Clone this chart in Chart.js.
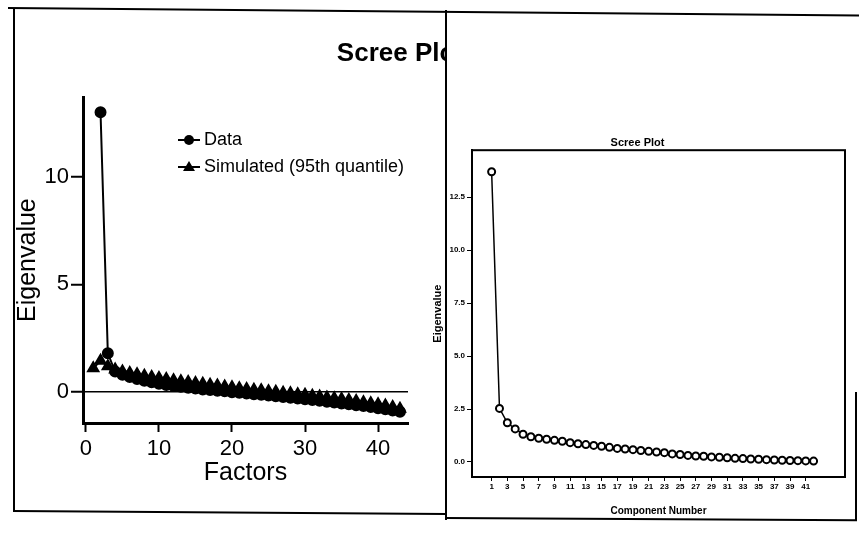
<!DOCTYPE html>
<html>
<head>
<meta charset="utf-8">
<script src="https://cdn.jsdelivr.net/npm/chart.js@4.4.1/dist/chart.umd.min.js"></script>
<style>
  body { margin: 0; background: #fff; width: 859px; height: 533px; overflow: hidden; position: relative; }
  .abs { position: absolute; }
  #leftWrap { left: 0; top: 9px; z-index: 1; }
  #rightPanel { left: 446px; top: 10px; width: 413px; height: 510px; background: #fff; z-index: 2; }
  #rightWrap { left: 430px; top: 100px; z-index: 3; }
  .ln { position: absolute; background: #000; z-index: 4; transform-origin: 0 0; }
</style>
</head>
<body>
<div class="abs" id="leftWrap"><canvas id="leftChart" width="464" height="499"></canvas></div>
<div class="abs" id="rightPanel"></div>
<div class="abs" id="rightWrap"><canvas id="rightChart" width="429" height="425"></canvas></div>

<!-- marcos del recorte escaneado -->
<div class="ln" style="left:8px;top:7px;width:852px;height:2px;transform:rotate(0.5deg)"></div>
<div class="ln" style="left:13px;top:9px;width:2px;height:503px"></div>
<div class="ln" style="left:13px;top:510px;width:434px;height:2px;transform:rotate(0.4deg)"></div>
<div class="ln" style="left:445px;top:10px;width:2px;height:510px"></div>
<div class="ln" style="left:445px;top:517px;width:412px;height:2px;transform:rotate(0.3deg)"></div>
<div class="ln" style="left:855px;top:392px;width:2px;height:128px"></div>

<script>
// === Panel izquierdo: análisis paralelo ===
const factors = [1, 2, 3, 4, 5, 6, 7, 8, 9, 10, 11, 12, 13, 14, 15, 16, 17, 18, 19, 20, 21, 22,
                 23, 24, 25, 26, 27, 28, 29, 30, 31, 32, 33, 34, 35, 36, 37, 38, 39, 40, 41, 42, 43];
const dataEigen = [null, 13.0, 1.8, 0.95, 0.8, 0.7, 0.6, 0.52, 0.45, 0.38, 0.33,
                   0.28, 0.24, 0.2, 0.16, 0.12, 0.09, 0.06, 0.03, -0.01, -0.04,
                   -0.07, -0.1, -0.13, -0.16, -0.2, -0.23, -0.27, -0.3, -0.34, -0.37,
                   -0.41, -0.45, -0.49, -0.53, -0.57, -0.61, -0.65, -0.7, -0.75, -0.8,
                   -0.86, -0.92];
const simulatedEigen = [1.1, 1.45, 1.2, 1.05, 0.95, 0.88, 0.82, 0.76, 0.7, 0.65,
                        0.6, 0.55, 0.5, 0.46, 0.42, 0.38, 0.34, 0.3, 0.26, 0.22,
                        0.18, 0.14, 0.11, 0.08, 0.04, 0.01, -0.03, -0.06, -0.1, -0.13,
                        -0.17, -0.21, -0.25, -0.29, -0.33, -0.37, -0.42, -0.47, -0.52, -0.57,
                        -0.63, -0.7, -0.78];
const leftXTicks = [0, 10, 20, 30, 40];
const leftYTicks = [0, 5, 10];

// === Panel derecho: gráfico de sedimentación (SPSS) ===
const components = [1, 2, 3, 4, 5, 6, 7, 8, 9, 10, 11, 12, 13, 14, 15, 16, 17, 18, 19, 20, 21,
                    22, 23, 24, 25, 26, 27, 28, 29, 30, 31, 32, 33, 34, 35, 36, 37, 38, 39, 40, 41, 42];
const componentEigen = [13.7, 2.53, 1.85, 1.56, 1.31, 1.19, 1.12, 1.07, 1.02, 0.98,
                        0.91, 0.86, 0.82, 0.78, 0.74, 0.69, 0.64, 0.61, 0.58, 0.54,
                        0.5, 0.47, 0.44, 0.38, 0.35, 0.31, 0.28, 0.27, 0.24, 0.22,
                        0.2, 0.17, 0.16, 0.14, 0.13, 0.11, 0.09, 0.08, 0.07, 0.06,
                        0.05, 0.04];
const rightXTicks = [1, 3, 5, 7, 9, 11, 13, 15, 17, 19, 21, 23, 25, 27, 29, 31, 33, 35, 37, 39, 41];
const rightYTicks = [0, 2.5, 5, 7.5, 10, 12.5];

const ARIAL = "Arial, 'Liberation Sans', sans-serif";

function toPoints(xs, ys) {
    return xs.map((x, i) => ({ x: x, y: ys[i] }));
}

// leyenda dibujada dentro del área del gráfico
const insideLegend = {
    id: 'insideLegend',
    afterDraw(chart) {
        const ctx = chart.ctx;
        ctx.save();
        ctx.font = '18px ' + ARIAL;
        ctx.textBaseline = 'middle';
        chart.data.datasets.forEach((ds, i) => {
            const y = 131 + i * 27;
            ctx.strokeStyle = '#000';
            ctx.lineWidth = 2;
            ctx.beginPath();
            ctx.moveTo(178, y);
            ctx.lineTo(200, y);
            ctx.stroke();
            ctx.fillStyle = '#000';
            ctx.beginPath();
            if (ds.pointStyle === 'triangle') {
                ctx.moveTo(189, y - 6);
                ctx.lineTo(195, y + 4);
                ctx.lineTo(183, y + 4);
                ctx.closePath();
            } else {
                ctx.arc(189, y, 5, 0, Math.PI * 2);
            }
            ctx.fill();
            ctx.fillText(ds.label, 204, y);
        });
        ctx.restore();
    }
};

// marco completo del área de trazado
const plotBox = {
    id: 'plotBox',
    afterDraw(chart) {
        const a = chart.chartArea;
        const ctx = chart.ctx;
        ctx.save();
        ctx.strokeStyle = '#000';
        ctx.lineWidth = 2;
        ctx.strokeRect(a.left, a.top, a.right - a.left, a.bottom - a.top);
        ctx.restore();
    }
};

new Chart(document.getElementById('leftChart'), {
    type: 'line',
    data: {
        datasets: [
            {
                label: 'Data',
                data: toPoints(factors, dataEigen),
                borderColor: '#000',
                backgroundColor: '#000',
                borderWidth: 2,
                pointStyle: 'circle',
                pointRadius: 5,
                pointBackgroundColor: '#000',
                pointBorderColor: '#000'
            },
            {
                label: 'Simulated (95th quantile)',
                data: toPoints(factors, simulatedEigen),
                borderColor: '#000',
                backgroundColor: '#000',
                borderWidth: 2,
                pointStyle: 'triangle',
                pointRadius: 6,
                pointBackgroundColor: '#000',
                pointBorderColor: '#000'
            }
        ]
    },
    options: {
        responsive: false,
        animation: false,
        layout: { padding: 0 },
        plugins: {
            legend: { display: false },
            tooltip: { enabled: false },
            title: {
                display: true,
                text: 'Scree Plot',
                align: 'end',
                color: '#000',
                font: { family: ARIAL, size: 26, weight: 'bold' },
                padding: { top: 29, bottom: 28 }
            }
        },
        scales: {
            x: {
                type: 'linear',
                min: -0.4,
                max: 44.1,
                afterBuildTicks: s => { s.ticks = leftXTicks.map(v => ({ value: v })); },
                afterFit: s => { s.height = 85; },
                border: { display: true, color: '#000', width: 3 },
                grid: { drawOnChartArea: false, color: '#000', tickColor: '#000', tickLength: 9, tickWidth: 2 },
                ticks: { color: '#000', padding: 4, maxRotation: 0, font: { family: ARIAL, size: 22 } },
                title: { display: true, text: 'Factors', color: '#000', font: { family: ARIAL, size: 25 }, padding: { top: 0, bottom: 20 } }
            },
            y: {
                type: 'linear',
                min: -1.44,
                max: 13.7,
                afterBuildTicks: s => { s.ticks = leftYTicks.map(v => ({ value: v })); },
                afterFit: s => { s.width = 83; },
                border: { display: true, color: '#000', width: 3 },
                grid: {
                    color: c => (c.tick && c.tick.value === 0 ? '#000' : 'rgba(0,0,0,0)'),
                    lineWidth: 1.5,
                    tickColor: '#000',
                    tickLength: 12,
                    tickWidth: 2
                },
                ticks: { color: '#000', padding: 2, font: { family: ARIAL, size: 22 } },
                title: { display: true, text: 'Eigenvalue', color: '#000', font: { family: ARIAL, size: 25 }, padding: { top: 13, bottom: 0 } }
            },
            spacer: {
                type: 'linear',
                position: 'right',
                display: true,
                afterFit: s => { s.width = 56; },
                border: { display: false },
                grid: { display: false },
                ticks: { display: false }
            }
        }
    },
    plugins: [insideLegend]
});

new Chart(document.getElementById('rightChart'), {
    type: 'line',
    data: {
        datasets: [{
            label: 'Eigenvalue',
            data: toPoints(components, componentEigen),
            borderColor: '#000',
            borderWidth: 1.5,
            pointStyle: 'circle',
            pointRadius: 3.5,
            pointBorderWidth: 2,
            pointBackgroundColor: '#fff',
            pointBorderColor: '#000'
        }]
    },
    options: {
        responsive: false,
        animation: false,
        layout: { padding: { left: 0, top: 0, right: 14, bottom: 0 } },
        plugins: {
            legend: { display: false },
            tooltip: { enabled: false },
            title: {
                display: true,
                text: 'Scree Plot',
                color: '#000',
                font: { family: ARIAL, size: 11, weight: 'bold' },
                padding: { top: 36, bottom: 1 }
            }
        },
        scales: {
            x: {
                type: 'linear',
                min: -1.5,
                max: 46,
                afterBuildTicks: s => { s.ticks = rightXTicks.map(v => ({ value: v })); },
                afterFit: s => { s.height = 48; },
                border: { display: true, color: '#000', width: 2 },
                grid: { drawOnChartArea: false, color: '#000', tickLength: 4, tickWidth: 1 },
                ticks: { color: '#000', padding: 1, maxRotation: 0, autoSkip: false, font: { family: ARIAL, size: 8, weight: 'bold' } },
                title: { display: true, text: 'Component Number', color: '#000', font: { family: ARIAL, size: 10, weight: 'bold' }, padding: { top: 0, bottom: 8 } }
            },
            y: {
                type: 'linear',
                min: -0.71,
                max: 14.72,
                afterBuildTicks: s => { s.ticks = rightYTicks.map(v => ({ value: v })); },
                afterFit: s => { s.width = 42; },
                border: { display: true, color: '#000', width: 2 },
                grid: { drawOnChartArea: false, color: '#000', tickLength: 5, tickWidth: 1 },
                ticks: { color: '#000', padding: 2, font: { family: ARIAL, size: 8, weight: 'bold' }, callback: v => v.toFixed(1) },
                title: { display: true, text: 'Eigenvalue', color: '#000', font: { family: ARIAL, size: 11, weight: 'bold' }, padding: { top: 1, bottom: 0 } }
            }
        }
    },
    plugins: [plotBox]
});
</script>
</body>
</html>
